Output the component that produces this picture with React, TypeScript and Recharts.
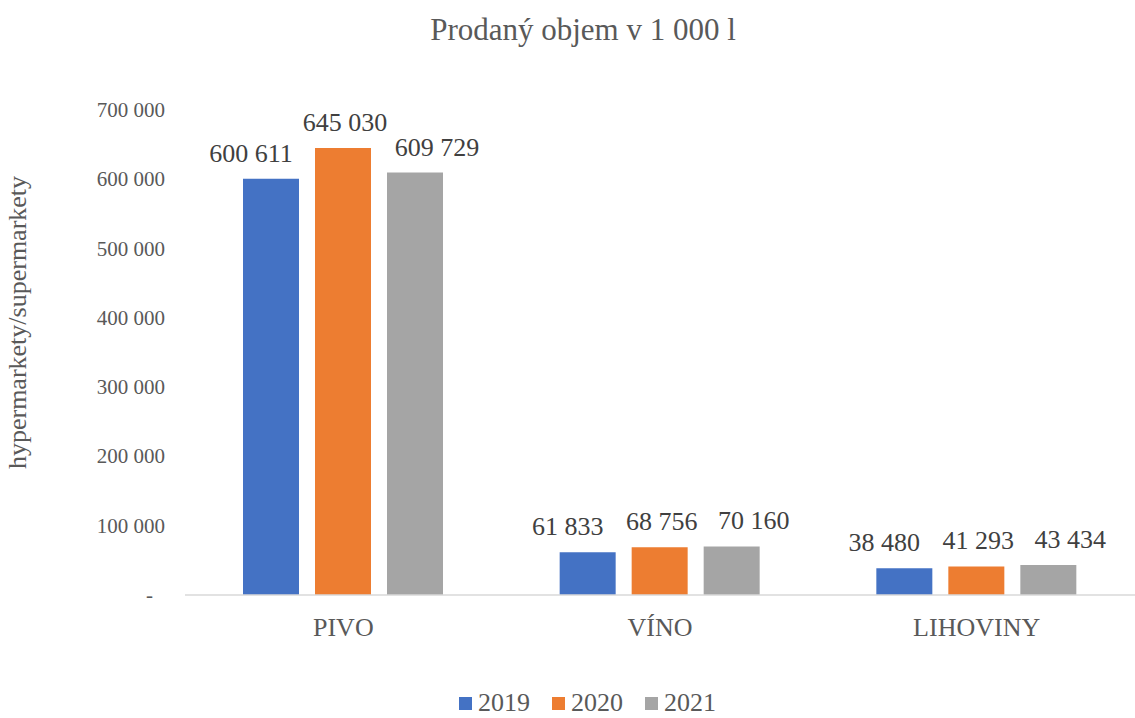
import React from "react";
import { BarChart, Bar, XAxis, YAxis, Legend, LabelList, Label } from "recharts";

const categories = ["PIVO", "VÍNO", "LIHOVINY"];
const series2019 = [600611, 61833, 38480];
const series2020 = [645030, 68756, 41293];
const series2021 = [609729, 70160, 43434];
const yTicks = [0, 100000, 200000, 300000, 400000, 500000, 600000, 700000];
const seriesNames = ["2019", "2020", "2021"];
const seriesColors = ["#4472C4", "#ED7D31", "#A5A5A5"];

const data = categories.map((c, i) => ({
  name: c,
  s2019: series2019[i],
  s2020: series2020[i],
  s2021: series2021[i],
}));

const FONT = "'Liberation Serif', 'Times New Roman', serif";

const fmt = (v: number) =>
  v === 0 ? "-" : String(v).replace(/\B(?=(\d{3})+(?!\d))/g, " ");

const makeLabel = (dx: number) => (props: any) => {
  const { x, y, width, value } = props;
  return (
    <text
      x={Number(x) + Number(width) / 2 + dx}
      y={Number(y) - 17}
      textAnchor="middle"
      fontFamily={FONT}
      fontSize={26}
      fill="#404040"
    >
      {fmt(Number(value))}
    </text>
  );
};

const YTick = (props: any) => {
  const { x, y, payload } = props;
  const v = payload.value;
  return (
    <text
      x={v === 0 ? x - 24 : x - 12}
      y={y}
      dy={7}
      textAnchor="end"
      fontFamily={FONT}
      fontSize={21}
      fill="#595959"
    >
      {fmt(v)}
    </text>
  );
};

const XTick = (props: any) => {
  const { x, y, payload } = props;
  return (
    <text
      x={x}
      y={y}
      dy={33}
      textAnchor="middle"
      fontFamily={FONT}
      fontSize={26}
      fill="#595959"
    >
      {payload.value}
    </text>
  );
};

const LegendContent = () => (
  <div
    style={{
      display: "flex",
      justifyContent: "center",
      fontFamily: FONT,
      fontSize: 26,
      lineHeight: "28px",
      color: "#595959",
      paddingLeft: 62,
      marginTop: 14,
    }}
  >
    {seriesNames.map((n, i) => (
      <div key={n} style={{ display: "flex", alignItems: "center", marginRight: 22 }}>
        <span
          style={{
            display: "inline-block",
            width: 13,
            height: 13,
            background: seriesColors[i],
            marginRight: 6,
          }}
        />
        <span>{n}</span>
      </div>
    ))}
  </div>
);

export default function App() {
  return (
    <div style={{ position: "absolute", left: 0, top: 0, background: "#fff" }}>
      <div
        style={{
          position: "absolute",
          left: 0,
          top: 12,
          width: 1166,
          textAlign: "center",
          fontFamily: FONT,
          fontSize: 31,
          color: "#595959",
          zIndex: 2,
        }}
      >
        Prodaný objem v 1 000 l
      </div>
      <BarChart
        width={1135}
        height={718}
        data={data}
        margin={{ top: 110, right: 0, bottom: 0, left: 0 }}
        barGap={16}
        barSize={56}
      >
        <XAxis
          dataKey="name"
          axisLine={{ stroke: "#D9D9D9", strokeWidth: 1.5 }}
          tickLine={false}
          tick={<XTick />}
          height={80}
        />
        <YAxis
          domain={[0, 700000]}
          ticks={yTicks}
          axisLine={false}
          tickLine={false}
          width={185}
          tick={<YTick />}
          interval={0}
        >
          <Label
            value="hypermarkety/supermarkety"
            angle={-90}
            position="insideLeft"
            dx={12}
            dy={-30}
            style={{ fontFamily: FONT, fontSize: 26, fill: "#595959", textAnchor: "middle" }}
          />
        </YAxis>
        <Legend verticalAlign="bottom" height={43} content={<LegendContent />} />
        <Bar dataKey="s2019" name="2019" fill={seriesColors[0]} isAnimationActive={false}>
          <LabelList dataKey="s2019" content={makeLabel(-20)} />
        </Bar>
        <Bar dataKey="s2020" name="2020" fill={seriesColors[1]} isAnimationActive={false}>
          <LabelList dataKey="s2020" content={makeLabel(2)} />
        </Bar>
        <Bar dataKey="s2021" name="2021" fill={seriesColors[2]} isAnimationActive={false}>
          <LabelList dataKey="s2021" content={makeLabel(22)} />
        </Bar>
      </BarChart>
    </div>
  );
}
